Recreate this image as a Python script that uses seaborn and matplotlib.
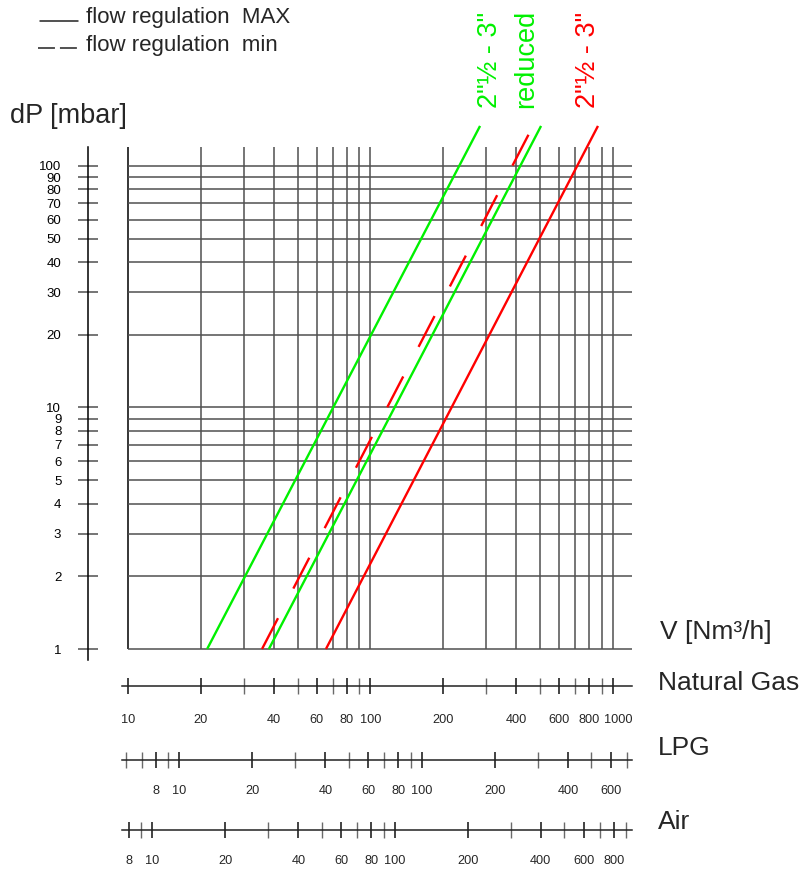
import numpy as np
import pandas as pd
import matplotlib
matplotlib.use("Agg")
import matplotlib.pyplot as plt
import matplotlib.transforms as mtransforms
import seaborn as sns
from matplotlib.lines import Line2D
from matplotlib.ticker import FixedLocator, FixedFormatter, NullFormatter, NullLocator

# ---------------- data ----------------
curve_names = ["green_a", "green_b", "red_min", "red_max"]
green_a_V = [21.2, 283.0]
green_a_dP = [1.0, 146.5]
green_b_V = [38.1, 505.0]
green_b_dP = [1.0, 146.5]
red_min_V = [35.7, 468.0]
red_min_dP = [1.0, 146.5]
red_max_V = [65.5, 867.0]
red_max_dP = [1.0, 146.5]

dp_ticks = [1, 2, 3, 4, 5, 6, 7, 8, 9, 10, 20, 30, 40, 50, 60, 70, 80, 90, 100]
ng_grid = [10, 20, 30, 40, 50, 60, 70, 80, 90, 100,
           200, 300, 400, 500, 600, 700, 800, 900, 1000]
ng_labels = [10, 20, 40, 60, 80, 100, 200, 400, 600, 800, 1000]
lpg_ticks = [6, 7, 8, 9, 10, 20, 30, 40, 50, 60, 70, 80, 90, 100,
             200, 300, 400, 500, 600, 700]
lpg_labels = [8, 10, 20, 40, 60, 80, 100, 200, 400, 600]
air_ticks = [8, 9, 10, 20, 30, 40, 50, 60, 70, 80, 90, 100,
             200, 300, 400, 500, 600, 700, 800, 900]
air_labels = [8, 10, 20, 40, 60, 80, 100, 200, 400, 600, 800]
lpg_factor = 1.63   # NG flow = LPG flow * factor
air_factor = 1.26   # NG flow = Air flow * factor

# ---------------- style ----------------
sns.set_style("white")
plt.rcParams["font.family"] = ["Liberation Sans", "DejaVu Sans"]
plt.rcParams["lines.scale_dashes"] = False

W, H = 803, 872
fig = plt.figure(figsize=(W / 100, H / 100), dpi=100)


def fx(px):
    return px / W


def fy(py):
    return 1 - py / H


GREEN = "#00f000"
RED = "#ff0000"
GRID = "#505050"

xlim = (10 ** (1 + (122 - 128) / 242.5), 10 ** (1 + (632 - 128) / 242.5))
ylim = (10 ** (-(660 - 649) / 241.5), 10 ** ((649 - 125) / 241.5))
y_grid_top = 10 ** ((649 - 147) / 241.5)

ax = fig.add_axes([fx(122), fy(660), (632 - 122) / W, (660 - 125) / H])
ax.set_xscale("log")
ax.set_yscale("log")
ax.set_xlim(*xlim)
ax.set_ylim(*ylim)
ax.patch.set_alpha(0)

# grid
ax.vlines(ng_grid[1:], 1, y_grid_top, colors=GRID, linewidth=1.1, zorder=1)
ax.vlines(ng_grid[:1], 1, y_grid_top, colors="black", linewidth=1.1, zorder=1)
ax.hlines(dp_ticks, 10, xlim[1], colors=GRID, linewidth=1.1, zorder=1)

# curves
df = pd.DataFrame({
    "V": green_a_V + green_b_V + red_min_V + red_max_V,
    "dP": green_a_dP + green_b_dP + red_min_dP + red_max_dP,
    "curve": sum([[n] * 2 for n in curve_names], []),
})
palette = {"green_a": GREEN, "green_b": GREEN, "red_min": RED, "red_max": RED}
dashes = {"green_a": "", "green_b": "", "red_min": (25, 24), "red_max": ""}
sns.lineplot(data=df, x="V", y="dP", hue="curve", style="curve",
             palette=palette, dashes=dashes, estimator=None, sort=False,
             linewidth=1.7, legend=False, ax=ax, zorder=3)
for ln in ax.get_lines():
    ln.set_dash_capstyle("butt")
    ln.set_solid_capstyle("butt")
ax.set_xlabel("")
ax.set_ylabel("")

# left dP axis
for s in ["top", "right", "bottom"]:
    ax.spines[s].set_visible(False)
ax.spines["left"].set_position(("outward", 24.5))
ax.spines["left"].set_bounds(ylim[0], y_grid_top)
ax.spines["left"].set_color("black")
ax.spines["left"].set_linewidth(1.1)
ax.set_xticks([])
ax.xaxis.set_minor_locator(NullLocator())
ax.yaxis.set_major_locator(FixedLocator(dp_ticks))
ax.yaxis.set_major_formatter(FixedFormatter([str(v) for v in dp_ticks]))
ax.yaxis.set_minor_locator(NullLocator())
ax.tick_params(axis="y", which="major", left=True, direction="inout",
               length=14.4, width=1.1, color=GRID, pad=12.0, labelsize=9.5,
               labelcolor="black")


def scale_axis(ypx, factor, ticks, labels, pad):
    a = fig.add_axes([fx(122), fy(ypx + 20), (632 - 122) / W, 40 / H])
    a.set_xscale("log")
    a.set_xlim(xlim[0] / factor, xlim[1] / factor)
    a.set_ylim(-1, 1)
    a.patch.set_alpha(0)
    for s in ["top", "right", "left"]:
        a.spines[s].set_visible(False)
    a.spines["bottom"].set_position(("data", 0))
    a.spines["bottom"].set_color("#222222")
    a.spines["bottom"].set_linewidth(1.1)
    a.set_yticks([])
    a.xaxis.set_major_locator(FixedLocator(labels))
    a.xaxis.set_major_formatter(FixedFormatter([str(v) for v in labels]))
    minor = [t for t in ticks if t not in labels]
    a.xaxis.set_minor_locator(FixedLocator(minor))
    a.xaxis.set_minor_formatter(NullFormatter())
    a.tick_params(axis="x", which="major", bottom=True, direction="inout",
                  length=11.5, width=1.2, color="#222222", pad=pad,
                  labelsize=9.2)
    a.tick_params(axis="x", which="minor", bottom=True, direction="inout",
                  length=11.5, width=1.0, color="#6a6a6a")
    return a


ax_ng = scale_axis(686, 1.0, ng_grid, ng_labels, 14.5)
scale_axis(760, lpg_factor, lpg_ticks, lpg_labels, 12.5)
scale_axis(830, air_factor, air_ticks, air_labels, 12.5)

# nudge the crowded "1000" label a little to the right, as in the reference
last = ax_ng.xaxis.get_major_ticks()[-1]
last.label1.set_transform(last.label1.get_transform()
                          + mtransforms.ScaledTranslation(0.05, 0, fig.dpi_scale_trans))

# texts
fig.text(fx(10), fy(116), "dP [mbar]", fontsize=19.5, ha="left", va="center")
fig.text(fx(660), fy(632), "V [Nm³/h]", fontsize=19, ha="left", va="center")
fig.text(fx(658), fy(683), "Natural Gas", fontsize=19, ha="left", va="center")
fig.text(fx(658), fy(748), "LPG", fontsize=19, ha="left", va="center")
fig.text(fx(658), fy(822), "Air", fontsize=19, ha="left", va="center")

fig.text(fx(490), fy(108), '2"½ - 3"', fontsize=19.5, color=GREEN,
         rotation=90, ha="center", va="bottom")
fig.text(fx(526), fy(108), "reduced", fontsize=19.5, color=GREEN,
         rotation=90, ha="center", va="bottom")
fig.text(fx(588), fy(108), '2"½ - 3"', fontsize=19.5, color=RED,
         rotation=90, ha="center", va="bottom")

# legend
fig.add_artist(Line2D([fx(40), fx(78)], [fy(21), fy(21)], color="#222222",
                      linewidth=1.1, transform=fig.transFigure))
fig.add_artist(Line2D([fx(38), fx(78)], [fy(48), fy(48)], color="#222222",
                      linewidth=1.1, dashes=(12.2, 3.6),
                      transform=fig.transFigure))
fig.text(fx(86), fy(18), "flow regulation  MAX", fontsize=16,
         ha="left", va="center")
fig.text(fx(86), fy(46), "flow regulation  min", fontsize=16,
         ha="left", va="center")

fig.savefig("out.png", dpi=100)
